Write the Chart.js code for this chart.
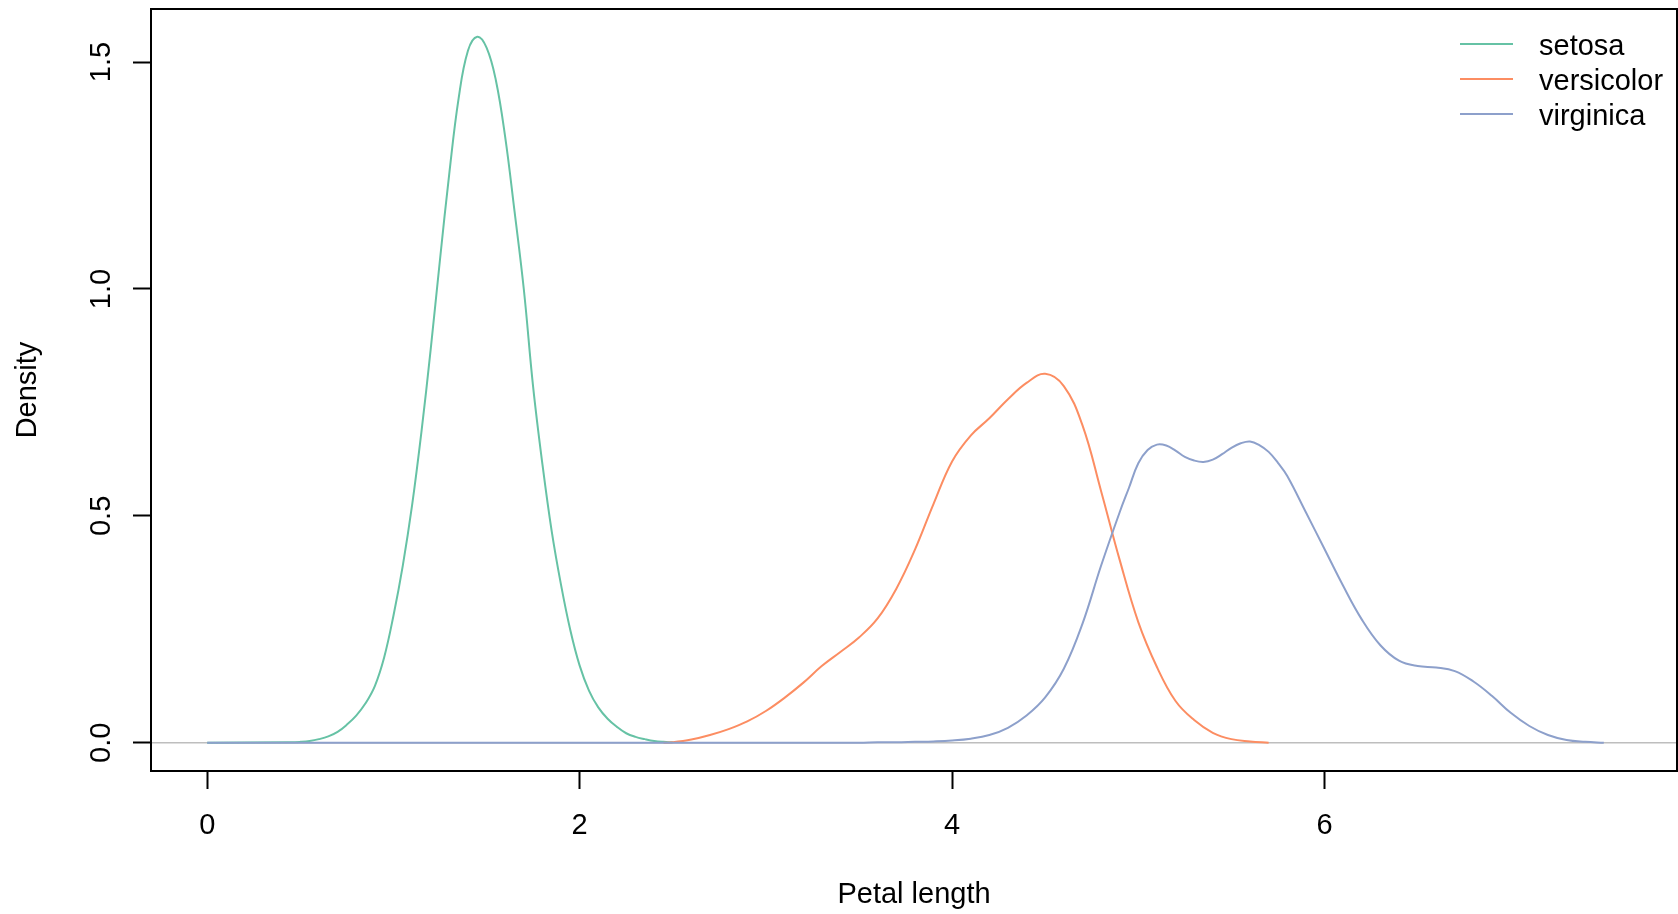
<!DOCTYPE html>
<html>
<head>
<meta charset="utf-8">
<title>Petal length density</title>
<script src="https://cdn.jsdelivr.net/npm/chart.js@4.4.1/dist/chart.umd.min.js"></script>
<style>
  html, body { margin: 0; padding: 0; background: #ffffff; }
  #wrap { width: 1678px; height: 914px; }
</style>
</head>
<body>
<div id="wrap"><canvas id="grafico" width="1678" height="914"></canvas></div>
<script>
// densidades estimadas del largo de pétalo por especie
const especies = ['setosa', 'versicolor', 'virginica'];
const colores = ['#66C2A5', '#FC8D62', '#8DA0CB'];

const setosaX = [0, 0.45, 0.5, 0.55, 0.6, 0.65, 0.7, 0.75, 0.8, 0.85, 0.9, 0.95, 1.0, 1.05, 1.1, 1.15, 1.2, 1.25, 1.3, 1.35, 1.4, 1.45, 1.5, 1.55, 1.6, 1.65, 1.7, 1.75, 1.8, 1.85, 1.9, 1.95, 2.0, 2.05, 2.1, 2.15, 2.2, 2.25, 2.3, 2.35, 2.4, 2.45, 2.5];
const setosaY = [0, 0.001, 0.002, 0.004, 0.008, 0.014, 0.024, 0.04, 0.06, 0.087, 0.125, 0.188, 0.28, 0.39, 0.523, 0.684, 0.867, 1.065, 1.255, 1.42, 1.525, 1.556, 1.532, 1.46, 1.335, 1.172, 1.0, 0.785, 0.614, 0.466, 0.348, 0.248, 0.17, 0.115, 0.078, 0.053, 0.035, 0.021, 0.013, 0.008, 0.004, 0.002, 0.001];

const versicolorX = [2.45, 2.5, 2.6, 2.7, 2.8, 2.9, 3.0, 3.1, 3.2, 3.3, 3.4, 3.5, 3.6, 3.7, 3.8, 3.9, 4.0, 4.1, 4.2, 4.3, 4.4, 4.5, 4.6, 4.7, 4.8, 4.9, 5.0, 5.1, 5.2, 5.3, 5.4, 5.5, 5.6, 5.7];
const versicolorY = [0, 0.001, 0.007, 0.017, 0.03, 0.047, 0.07, 0.099, 0.132, 0.169, 0.2, 0.232, 0.274, 0.339, 0.425, 0.526, 0.62, 0.677, 0.715, 0.757, 0.793, 0.813, 0.786, 0.7, 0.555, 0.403, 0.266, 0.167, 0.092, 0.05, 0.022, 0.008, 0.003, 0];

const virginicaX = [0, 3.5, 3.6, 3.7, 3.8, 3.9, 4.0, 4.1, 4.2, 4.3, 4.4, 4.5, 4.6, 4.7, 4.8, 4.9, 4.95, 5.0, 5.05, 5.1, 5.15, 5.2, 5.25, 5.3, 5.35, 5.4, 5.45, 5.5, 5.55, 5.6, 5.65, 5.7, 5.75, 5.8, 5.9, 6.0, 6.1, 6.2, 6.3, 6.4, 6.5, 6.6, 6.7, 6.8, 6.9, 7.0, 7.1, 7.2, 7.3, 7.4, 7.5];
const virginicaY = [0, 0, 0.001, 0.001, 0.002, 0.003, 0.005, 0.009, 0.017, 0.033, 0.06, 0.1, 0.163, 0.262, 0.39, 0.508, 0.562, 0.616, 0.645, 0.657, 0.655, 0.644, 0.63, 0.622, 0.619, 0.624, 0.636, 0.65, 0.66, 0.664, 0.656, 0.641, 0.617, 0.588, 0.508, 0.427, 0.346, 0.272, 0.215, 0.181, 0.169, 0.166, 0.158, 0.135, 0.103, 0.066, 0.037, 0.017, 0.006, 0.002, 0];

// marcas de los ejes
const xTicks = [0, 2, 4, 6];
const yTicks = [0, 0.5, 1.0, 1.5];

const FUENTE = "'Liberation Sans', Arial, Helvetica, sans-serif";
const TAM = 29;

function puntos(xs, ys) {
  return xs.map((x, i) => ({ x, y: ys[i] }));
}

const series = [
  puntos(setosaX, setosaY),
  puntos(versicolorX, versicolorY),
  puntos(virginicaX, virginicaY)
];

// linea gris en densidad cero, debajo de las curvas
const lineaCero = {
  id: 'lineaCero',
  beforeDatasetsDraw(chart) {
    const { ctx, chartArea, scales } = chart;
    const y = scales.y.getPixelForValue(0);
    ctx.save();
    ctx.strokeStyle = '#BEBEBE';
    ctx.lineWidth = 1.5;
    ctx.beginPath();
    ctx.moveTo(chartArea.left, y);
    ctx.lineTo(chartArea.right, y);
    ctx.stroke();
    ctx.restore();
  }
};

// caja, etiquetas verticales del eje y y leyenda
const decoracion = {
  id: 'decoracion',
  afterDraw(chart) {
    const { ctx, chartArea, scales } = chart;
    ctx.save();
    ctx.strokeStyle = '#000000';
    ctx.lineWidth = 2;
    ctx.strokeRect(chartArea.left, chartArea.top, chartArea.right - chartArea.left, chartArea.bottom - chartArea.top);

    ctx.fillStyle = '#000000';
    ctx.font = TAM + 'px ' + FUENTE;
    ctx.textAlign = 'center';
    ctx.textBaseline = 'alphabetic';
    scales.y.ticks.forEach(t => {
      const py = scales.y.getPixelForValue(t.value);
      ctx.save();
      ctx.translate(110, py);
      ctx.rotate(-Math.PI / 2);
      ctx.fillText(t.value.toFixed(1), 0, 0);
      ctx.restore();
    });

    ctx.textAlign = 'left';
    ctx.textBaseline = 'middle';
    chart.data.datasets.forEach((ds, i) => {
      const y = 44 + i * 35;
      ctx.strokeStyle = ds.borderColor;
      ctx.lineWidth = 2;
      ctx.beginPath();
      ctx.moveTo(1460, y);
      ctx.lineTo(1513, y);
      ctx.stroke();
      ctx.fillText(ds.label, 1539, y + 3);
    });
    ctx.restore();
  }
};

const ctx = document.getElementById('grafico').getContext('2d');
new Chart(ctx, {
  type: 'line',
  data: {
    datasets: especies.map((nombre, i) => ({
      label: nombre,
      data: series[i],
      borderColor: colores[i],
      backgroundColor: colores[i],
      borderWidth: 2,
      pointRadius: 0,
      fill: false,
      tension: 0.4,
      order: especies.length - i
    }))
  },
  options: {
    responsive: false,
    devicePixelRatio: 1,
    animation: false,
    layout: { padding: { left: 0, right: 1, top: 9, bottom: 0 } },
    plugins: {
      legend: { display: false },
      tooltip: { enabled: false }
    },
    scales: {
      x: {
        type: 'linear',
        min: -0.302,
        max: 7.893,
        afterBuildTicks: scale => { scale.ticks = xTicks.map(v => ({ value: v })); },
        afterFit: scale => { scale.height = 143; },
        border: { display: false },
        grid: {
          drawOnChartArea: false,
          drawTicks: true,
          tickLength: 18,
          tickColor: '#000000',
          tickWidth: 2
        },
        ticks: {
          font: { size: TAM, family: FUENTE },
          color: '#000000',
          padding: 20,
          maxRotation: 0,
          callback: v => String(v)
        },
        title: {
          display: true,
          text: 'Petal length',
          font: { size: TAM, family: FUENTE },
          color: '#000000',
          padding: { top: 2, bottom: 2 }
        }
      },
      y: {
        type: 'linear',
        min: -0.0622,
        max: 1.617,
        afterBuildTicks: scale => { scale.ticks = yTicks.map(v => ({ value: v })); },
        afterFit: scale => { scale.width = 151; },
        border: { display: false },
        grid: {
          drawOnChartArea: false,
          drawTicks: true,
          tickLength: 18,
          tickColor: '#000000',
          tickWidth: 2
        },
        ticks: { display: false },
        title: {
          display: true,
          text: 'Density',
          font: { size: TAM, family: FUENTE },
          color: '#000000',
          padding: { top: 11, bottom: 11 }
        }
      }
    }
  },
  plugins: [lineaCero, decoracion]
});
</script>
</body>
</html>
